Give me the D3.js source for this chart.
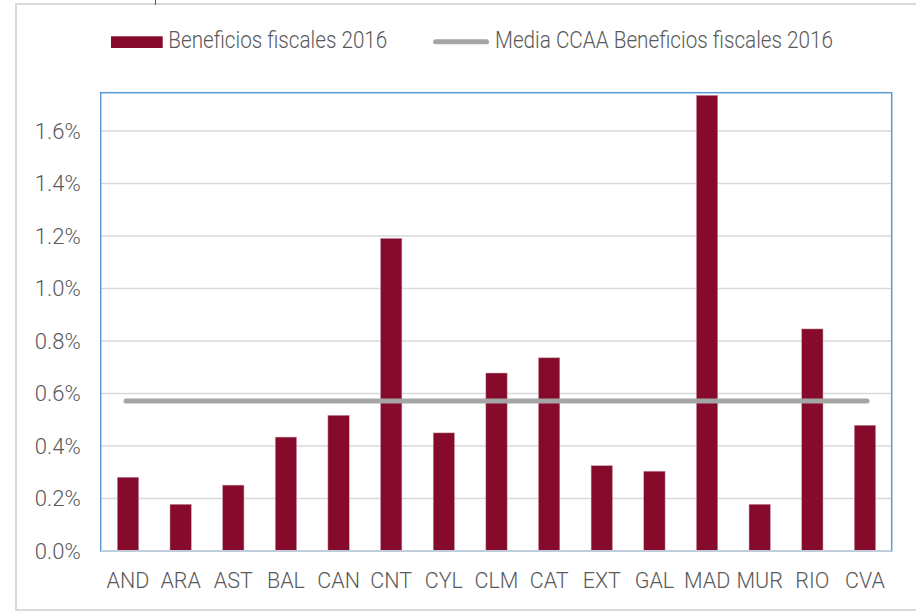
<!DOCTYPE html>
<html>
<head>
<meta charset="utf-8">
<script src="https://cdn.jsdelivr.net/npm/d3@7"></script>
<style>
  html, body { margin: 0; padding: 0; background: #fff; }
  svg { display: block; font-family: Roboto, "Open Sans", sans-serif; }
</style>
</head>
<body>
<svg id="chart" width="916" height="611"></svg>
<script>
// ---- data ----
const categories = ["AND","ARA","AST","BAL","CAN","CNT","CYL","CLM","CAT","EXT","GAL","MAD","MUR","RIO","CVA"];
const beneficios2016 = [0.281,0.178,0.251,0.434,0.517,1.191,0.450,0.678,0.736,0.325,0.304,1.736,0.178,0.846,0.479]; // % of GDP
const mediaCCAA = 0.571; // %
const yTicks = [0.0,0.2,0.4,0.6,0.8,1.0,1.2,1.4,1.6];
const seriesNames = ["Beneficios fiscales 2016", "Media CCAA Beneficios fiscales 2016"];

// ---- layout ----
const W = 916, H = 611;
const plot = { left: 100.7, top: 92.7, right: 891.7, bottom: 551 };
const barColor = "#850A2B";
const lineColor = "#A5A5A5";
const textColor = "#595959";

const svg = d3.select("#chart");

// outer frame
svg.append("rect")
  .attr("x", 16).attr("y", 4).attr("width", 910).attr("height", 606)
  .attr("fill", "none").attr("stroke", "#D9D9D9").attr("stroke-width", 2);
// remnant of cropped title glyph
svg.append("line").attr("x1", 155.5).attr("x2", 155.5).attr("y1", 0).attr("y2", 5)
  .attr("stroke", "#555").attr("stroke-width", 1);

const x = d3.scaleBand().domain(categories).range([101.7, 891.3]).padding(0);
const y = d3.scaleLinear().domain([0, 1.746]).range([plot.bottom, plot.top]);
const barW = x.bandwidth() * 0.405;

// gridlines
svg.append("g").selectAll("line").data(yTicks.filter(d => d > 0)).join("line")
  .attr("x1", plot.left).attr("x2", plot.right)
  .attr("y1", d => y(d)).attr("y2", d => y(d))
  .attr("stroke", "#D9D9D9").attr("stroke-width", 1.6);

// plot border
svg.append("rect")
  .attr("x", plot.left).attr("y", plot.top)
  .attr("width", plot.right - plot.left).attr("height", plot.bottom - plot.top)
  .attr("fill", "none").attr("stroke", "#5B9BD5").attr("stroke-width", 1.5);

// y axis labels
const yAxis = d3.axisLeft(y).tickValues(yTicks).tickFormat(d => d3.format(".1f")(d) + "%").tickSize(0).tickPadding(20);
const gy = svg.append("g").attr("transform", `translate(${plot.left},0)`).call(yAxis);
gy.select(".domain").remove();
gy.selectAll("text")
  .attr("fill", textColor).attr("font-size", 22).attr("font-weight", 300)
  .attr("font-family", "Roboto, sans-serif");

// bars
svg.append("g").selectAll("rect").data(categories).join("rect")
  .attr("x", (d) => x(d) + x.bandwidth() / 2 - barW / 2)
  .attr("width", barW)
  .attr("y", (d, i) => y(beneficios2016[i]))
  .attr("height", (d, i) => y(0) - y(beneficios2016[i]))
  .attr("fill", barColor)
  .attr("stroke", "#C9A0AC").attr("stroke-width", 0.5);

// x axis line
svg.append("line")
  .attr("x1", plot.left).attr("x2", plot.right)
  .attr("y1", y(0)).attr("y2", y(0))
  .attr("stroke", "#BFCCDA").attr("stroke-width", 2);

// x axis labels
const xAxis = d3.axisBottom(x).tickSize(0).tickPadding(22);
const gx = svg.append("g").attr("transform", `translate(0,${plot.bottom})`).call(xAxis);
gx.select(".domain").remove();
gx.selectAll("text")
  .attr("fill", textColor).attr("font-size", 21.5).attr("font-weight", 300)
  .attr("font-family", "Roboto, sans-serif");

// mean line
const first = categories[0], last = categories[categories.length - 1];
svg.append("line")
  .attr("x1", x(first) + x.bandwidth() / 2 - 2)
  .attr("x2", x(last) + x.bandwidth() / 2 + 2)
  .attr("y1", y(mediaCCAA)).attr("y2", y(mediaCCAA))
  .attr("stroke", lineColor).attr("stroke-width", 5).attr("stroke-linecap", "round");

// legend
const lg = svg.append("g");
lg.append("rect").attr("x", 111).attr("y", 36.3).attr("width", 51.7).attr("height", 11.7).attr("fill", barColor);
lg.append("text").attr("x", 168.3).attr("y", 48)
  .attr("font-size", 23).attr("font-weight", 300).attr("fill", textColor)
  .attr("textLength", 219).attr("lengthAdjust", "spacingAndGlyphs")
  .text(seriesNames[0]);
lg.append("line").attr("x1", 435.5).attr("x2", 486.5).attr("y1", 41.7).attr("y2", 41.7)
  .attr("stroke", lineColor).attr("stroke-width", 5).attr("stroke-linecap", "round");
lg.append("text").attr("x", 495).attr("y", 48)
  .attr("font-size", 23).attr("font-weight", 300).attr("fill", textColor)
  .attr("textLength", 338).attr("lengthAdjust", "spacingAndGlyphs")
  .text(seriesNames[1]);
</script>
</body>
</html>
